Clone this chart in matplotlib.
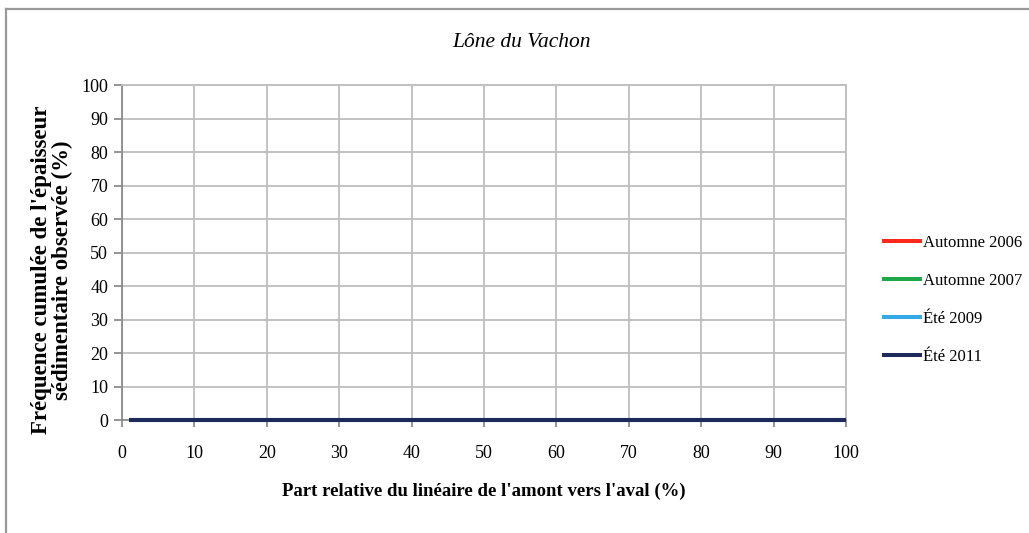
import matplotlib
matplotlib.use("Agg")
import matplotlib.pyplot as plt
from matplotlib.lines import Line2D

# ── Data ──────────────────────────────────────────────────────────────────────
TITLE = "Lône du Vachon"
series_names = ["Automne 2006", "Automne 2007", "Été 2009", "Été 2011"]
x_pos = [1, 100]            # part relative du linéaire (%)
y_aut2006 = [0, 0]
y_aut2007 = [0, 0]
y_ete2009 = [0, 0]
y_ete2011 = [0, 0]
x_ticks = [0, 10, 20, 30, 40, 50, 60, 70, 80, 90, 100]
y_ticks = [0, 10, 20, 30, 40, 50, 60, 70, 80, 90, 100]

COLORS = ["#FF2A1F", "#1FA84A", "#33AAE6", "#1F2A5C"]
GRID = "#BEBEBE"
SPINE = "#8C8C8C"

plt.rcParams["font.family"] = ["Liberation Serif", "DejaVu Serif"]

fig = plt.figure(figsize=(10.29, 5.33), dpi=100)
ax = fig.add_axes([0.1186, 0.212, 0.7036, 0.6285])

for y, c, name in zip([y_aut2006, y_aut2007, y_ete2009, y_ete2011],
                      COLORS, series_names):
    ax.plot(x_pos, y, color=c, linewidth=2.9, label=name,
            solid_capstyle="butt", clip_on=False, zorder=3)

ax.set_xlim(0, 100)
ax.set_ylim(0, 100)
ax.set_xticks(x_ticks)
ax.set_yticks(y_ticks)
ax.grid(True, color=GRID, linewidth=1.3)
ax.set_axisbelow(True)
for s in ax.spines.values():
    s.set_color(GRID)
    s.set_linewidth(1.3)
ax.spines["left"].set_color(SPINE)
ax.spines["bottom"].set_color(SPINE)
ax.tick_params(axis="x", colors=SPINE, length=5, width=1.3, pad=13,
               labelcolor="black", labelsize=13, direction="out")
ax.tick_params(axis="y", colors=SPINE, length=6, width=1.3, pad=4,
               labelcolor="black", labelsize=13, direction="out")

ax.set_xlabel("Part relative du linéaire de l'amont vers l'aval (%)",
              fontsize=13.5, fontweight="bold", labelpad=15)
ax.set_ylabel("Fréquence cumulée de l'épaisseur\nsédimentaire observée (%)",
              fontsize=16.5, fontweight="bold", linespacing=0.95, va="center")
ax.yaxis.set_label_coords(-0.0967, 0.448)

fig.text(0.507, 0.921, TITLE, ha="center", va="center",
         fontsize=15.5, style="italic")

handles = [Line2D([0], [0], color=c, linewidth=2.9) for c in COLORS]
fig.legend(handles, series_names, loc="center left",
           bbox_to_anchor=(0.8445, 0.437), frameon=False, fontsize=12,
           handlelength=2.15, handletextpad=0.18, labelspacing=1.33)

# outer chart frame (top and left edges visible)
fig.add_artist(Line2D([0.0058, 0.0058], [0, 0.983], transform=fig.transFigure,
                      color="#9A9A9A", linewidth=1.6))
fig.add_artist(Line2D([0.0058, 1.0], [0.983, 0.983], transform=fig.transFigure,
                      color="#9A9A9A", linewidth=1.6))

fig.savefig("out.png", dpi=100)
